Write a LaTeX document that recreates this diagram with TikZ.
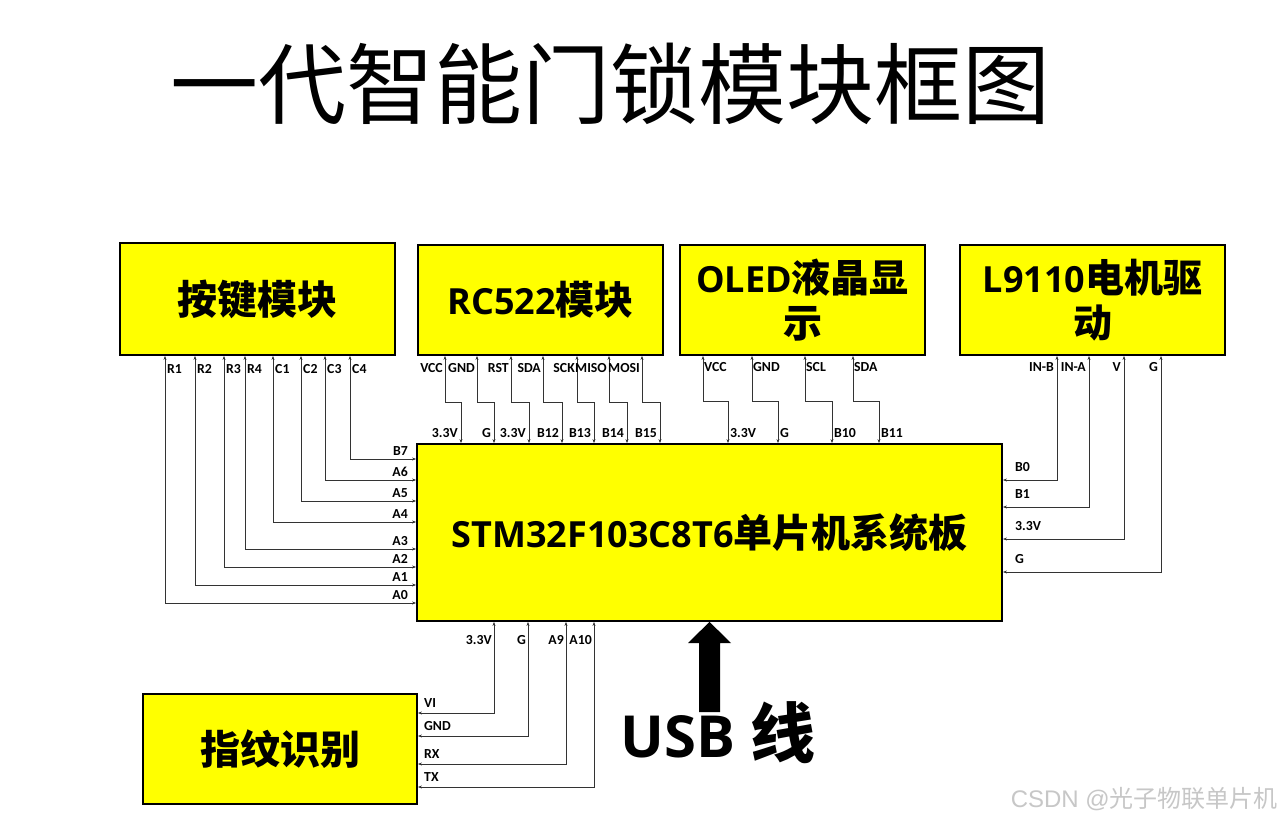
\documentclass[tikz,border=0pt]{standalone}
\usepackage{fontspec}
\usetikzlibrary{arrows.meta}
\newfontfamily\cjk{Noto Sans CJK SC}
\newfontfamily\lat{Open Sans}
\newfontfamily\pinf{Carlito}
\newfontfamily\wmf{Liberation Sans}
\definecolor{boxy}{HTML}{FFFF00}
\newcommand{\bc}{\cjk\fontsize{39}{45}\selectfont}
\newcommand{\bl}{\lat\fontsize{36}{45}\selectfont}
\tikzset{
 mod/.style={draw=black, line width=1.8pt, fill=boxy, inner sep=0pt, align=center},
 conn/.style={draw=black!80, line width=0.75pt, {Stealth[length=4pt,width=3pt]}-{Stealth[length=4pt,width=3pt]}},
 pin/.style={font=\pinf\bfseries\fontsize{13.8}{15}\selectfont, inner sep=0pt, text=black},
 boxtxt/.style={font=\bfseries\fontsize{37}{45}\selectfont},
}
\begin{document}
\begin{tikzpicture}[x=1pt,y=-1pt]
\useasboundingbox[fill=white] (0,0) rectangle (1280,819);
% title
\node[inner sep=0pt, font=\cjk\fontsize{88}{90}\selectfont] (title) at (610,84) {一代智能门锁模块框图};
% modules
\node[mod, boxtxt, minimum width=275, minimum height=112] (kb) at (257.5,299) {\fontsize{40}{45}\selectfont\cjk 按键模块};
\node[mod, boxtxt, minimum width=245, minimum height=110] (rc) at (540.5,300) {{\bl RC522}{\bc 模块}};
\node[mod, boxtxt, minimum width=245, minimum height=110] (ol) at (802.5,300) {{\bl OLED}{\bc 液晶显}\\{\bc 示}};
\node[mod, boxtxt, minimum width=265, minimum height=110] (l9) at (1092.5,300) {{\bl L9110}{\bc 电机驱}\\{\bc 动}};
\node[mod, boxtxt, minimum width=585, minimum height=177] (stm) at (709.5,532.5) {{\bl STM32F103C8T6}{\bc 单片机系统板}};
\node[mod, boxtxt, minimum width=274, minimum height=110] (fp) at (280,749) {\fontsize{40}{45}\selectfont\cjk 指纹识别};
% keypad connectors
\foreach \x/\y/\t/\p [count=\i] in {165/603/R1/A0, 195/585/R2/A1, 224/567/R3/A2, 245/549/R4/A3, 273/522/C1/A4, 301/501/C2/A5, 325/480/C3/A6, 350/459/C4/B7}{
  \draw[conn] (kb.south -| \x,0) |- (stm.west |- 0,\y);
  \node[pin, anchor=west] (kt\i) at (\x+2,369) {\t};
  \node[pin, anchor=east] (kp\i) at (408,\y-8) {\p};
}
% RC522 connectors
\foreach \xa/\xb/\ta/\tb [count=\i] in {445/461/VCC/3.3V, 477/494/GND/G, 511/529/RST/3.3V, 543/562/SDA/B12, 577/594/SCK/B13, 609/627/MISO/B14, 642/660/MOSI/B15}{
  \draw[conn] (rc.south -| \xa,0) -- (\xa,402) -- (\xb,402) -- (stm.north -| \xb,0);
  \node[pin, anchor=east] (rt\i) at (\xa-2,368) {\ta};
  \node[pin, anchor=east] (rp\i) at (\xb-3,433) {\tb};
}
% OLED connectors
\foreach \xa/\xb/\ta/\tb [count=\i] in {703/728/VCC/3.3V, 752/778/GND/G, 805/832/SCL/B10, 853/879/SDA/B11}{
  \draw[conn] (ol.south -| \xa,0) -- (\xa,401) -- (\xb,401) -- (stm.north -| \xb,0);
  \node[pin, anchor=west] (ot\i) at (\xa+1,367) {\ta};
  \node[pin, anchor=west] (op\i) at (\xb+2,433) {\tb};
}
% L9110 connectors
\foreach \x/\y/\t/\p [count=\i] in {1057/480/IN-B/B0, 1089/507/IN-A/B1, 1124/539/V/3.3V, 1161/572/G/G}{
  \draw[conn] (l9.south -| \x,0) |- (stm.east |- 0,\y);
  \node[pin, anchor=east] (lt\i) at (\x-3,367) {\t};
  \node[pin, anchor=west] (lp\i) at (1015,\y-13) {\p};
}
% fingerprint connectors
\foreach \x/\y/\t/\p [count=\i] in {494/713/3.3V/VI, 528/736/G/GND, 566/764/A9/RX, 594/787/A10/TX}{
  \draw[conn] (stm.south -| \x,0) |- (fp.east |- 0,\y);
  \node[pin, anchor=east] (ft\i) at (\x-2,640) {\t};
  \node[pin, anchor=west] (fpn\i) at (424,\y-10) {\p};
}
% USB
\node[anchor=base west, inner sep=0pt] (usb) at (620,757) {{\lat\bfseries\fontsize{58}{60}\selectfont USB }{\cjk\bfseries\fontsize{65}{60}\selectfont 线}};
\fill[black] (699,712) -- (699,643) -- (688,643) -- (stm.south -| 709.5,0) -- (731,643) -- (720,643) -- (720,712) -- cycle;
% watermark
\node[anchor=base east, inner sep=0pt, text=black!22] (wm) at (1278,807) {{\wmf\fontsize{24}{25}\selectfont CSDN @}{\cjk\fontsize{24}{25}\selectfont 光子物联单片机}};
\end{tikzpicture}
\end{document}
